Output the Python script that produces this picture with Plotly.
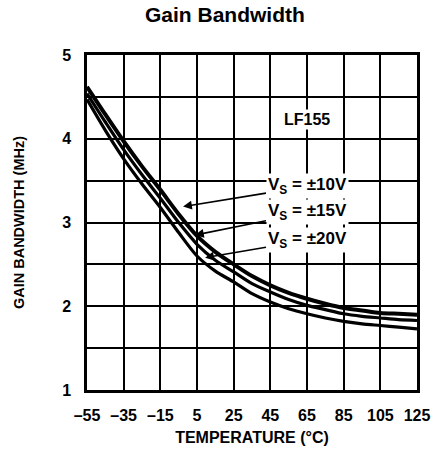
import plotly.graph_objects as go

# Data
temperature = [-55, -45, -35, -25, -15, -5, 5, 15, 25, 35, 45, 55, 65, 75, 85, 95, 105, 115, 125]
gbw_top = [4.62, 4.29, 3.97, 3.67, 3.39, 3.10, 2.84, 2.65, 2.50, 2.36, 2.25, 2.16, 2.09, 2.03, 1.98, 1.95, 1.92, 1.91, 1.90]
gbw_mid = [4.54, 4.20, 3.87, 3.57, 3.29, 3.00, 2.74, 2.55, 2.41, 2.27, 2.17, 2.08, 2.01, 1.96, 1.91, 1.88, 1.86, 1.84, 1.83]
gbw_bot = [4.47, 4.10, 3.76, 3.46, 3.18, 2.88, 2.60, 2.42, 2.29, 2.15, 2.05, 1.97, 1.91, 1.86, 1.82, 1.79, 1.77, 1.75, 1.73]

x_ticks = [-55, -35, -15, 5, 25, 45, 65, 85, 105, 125]
y_ticks = [1, 2, 3, 4, 5]

labels = ["V<sub>S</sub> = ±10V", "V<sub>S</sub> = ±15V", "V<sub>S</sub> = ±20V"]
label_pos = [(65, 3.43), (65, 3.12), (65, 2.79)]
arrow_tips = [(-2.6, 3.19), (3.9, 2.85), (9.4, 2.58)]

FONT = "Liberation Sans, Arial, sans-serif"

fig = go.Figure()
for ys, w in [(gbw_top, 4), (gbw_mid, 3.2), (gbw_bot, 3.2)]:
    fig.add_trace(go.Scatter(x=temperature, y=ys, mode="lines",
                             line=dict(color="black", width=w, shape="spline", smoothing=0.8),
                             hoverinfo="skip", showlegend=False))

annotations = []
for txt, (tx, ty), (hx, hy) in zip(labels, label_pos, arrow_tips):
    annotations.append(dict(
        x=hx, y=hy, xref="x", yref="y", ax=tx, ay=ty, axref="x", ayref="y",
        text=txt, showarrow=True, arrowhead=2, arrowsize=1.1, arrowwidth=1.6,
        arrowcolor="black", bgcolor="white", borderpad=1,
        font=dict(family=FONT, size=17, color="black", weight="bold")))
annotations.append(dict(x=65, y=4.23, xref="x", yref="y", text="LF155", showarrow=False,
                        bgcolor="white",
                        font=dict(family=FONT, size=16, color="black", weight="bold")))

fig.update_layout(
    width=441, height=458,
    margin=dict(l=87, r=24, t=55, b=68),
    paper_bgcolor="white", plot_bgcolor="white",
    title=dict(text="Gain Bandwidth", x=0.51, xanchor="center", y=1 - 15 / 458, yanchor="middle",
               font=dict(family=FONT, size=21, color="black", weight="bold")),
    xaxis=dict(range=[-55, 125], tickvals=x_ticks, ticktext=[str(v).replace("-", "\u2013") for v in x_ticks],
               showgrid=True, gridcolor="black", gridwidth=1.5, zeroline=False,
               showline=True, linecolor="black", linewidth=2.5, mirror=True,
               ticks="", ticklabelstandoff=9,
               tickfont=dict(family=FONT, size=16, color="black", weight="bold"),
               title=dict(text="TEMPERATURE (°C)", standoff=9,
                          font=dict(family=FONT, size=16, color="black", weight="bold"))),
    yaxis=dict(range=[1, 5], tickvals=y_ticks, ticktext=[str(v) for v in y_ticks],
               showgrid=True, gridcolor="black", gridwidth=1.5, zeroline=False,
               minor=dict(dtick=0.5, tick0=1, showgrid=True, gridcolor="black", gridwidth=1.5, ticks=""),
               showline=True, linecolor="black", linewidth=2.5, mirror=True,
               ticks="", ticklabelstandoff=10,
               tickfont=dict(family=FONT, size=16, color="black", weight="bold"),
               title=dict(text="GAIN BANDWIDTH (MHz)", standoff=35,
                          font=dict(family=FONT, size=14.5, color="black", weight="bold"))),
    annotations=annotations,
)

fig.write_html("out.html", config={"displayModeBar": False},
               post_script="document.body.style.margin='0';")
